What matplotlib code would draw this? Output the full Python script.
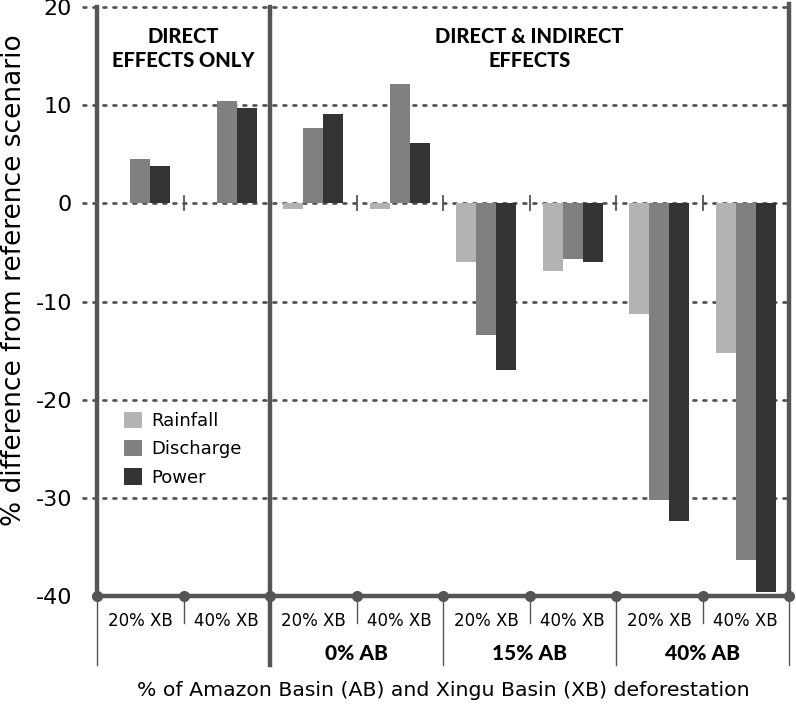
import matplotlib.pyplot as plt
import matplotlib.transforms as mtransforms
import numpy as np

plt.rcParams['font.family'] = ['DejaVu Sans']

# data
xb_labels = ['20% XB', '40% XB', '20% XB', '40% XB', '20% XB', '40% XB', '20% XB', '40% XB']
ab_labels = ['', '0% AB', '15% AB', '40% AB']
rainfall = [0, 0, -0.6, -0.6, -6.0, -6.9, -11.3, -15.2]
discharge = [4.5, 10.4, 7.7, 12.2, -13.4, -5.7, -30.2, -36.3]
power = [3.8, 9.7, 9.1, 6.1, -17.0, -6.0, -32.4, -39.6]
yticks = [20, 10, 0, -10, -20, -30, -40]

c_rain = '#b3b3b3'
c_dis = '#808080'
c_pow = '#333333'
c_axis = '#555555'
heavy = ['Lato', 'DejaVu Sans']

fig = plt.figure(figsize=(7.96, 7.05), dpi=100)
ax = fig.add_axes([97 / 796, 1 - 596 / 705, 692 / 796, 589 / 705])

n = len(xb_labels)
x = np.arange(n) + 0.5
w = 0.233

ax.bar(x - w, rainfall, w, color=c_rain, linewidth=0, label='Rainfall', zorder=3)
ax.bar(x, discharge, w, color=c_dis, linewidth=0, label='Discharge', zorder=3)
ax.bar(x + w, power, w, color=c_pow, linewidth=0, label='Power', zorder=3)

ax.set_xlim(0, n)
ax.set_ylim(-40, 20)

# dotted grid lines, running a bit left of the axis
for yv in yticks[:-1]:
    ax.plot([-0.16, n], [yv, yv], ls=(0, (1, 2.6)), lw=2, color=c_axis,
            clip_on=False, zorder=2, dash_capstyle='round')

# small ticks on zero line
for xv in [1, 3, 4, 5, 6, 7]:
    ax.plot([xv, xv], [-0.7, 0.7], color=c_axis, lw=1.3, zorder=2)

for s in ax.spines.values():
    s.set_visible(False)

# thick frame lines
ax.plot([0, 0], [-40, 20], color=c_axis, lw=3.2, clip_on=False, zorder=4)
ax.plot([2, 2], [-40, 20], color=c_axis, lw=3.2, clip_on=False, zorder=4)
ax.plot([n, n], [-40, 20.3], color=c_axis, lw=3.2, clip_on=False, zorder=4)
ax.plot(np.arange(n + 1), [-40] * (n + 1), color=c_axis, lw=3.2, marker='o',
        ms=7, clip_on=False, zorder=5)

# separators below the axis
trans = mtransforms.blended_transform_factory(ax.transData, ax.transAxes)
for xv in range(n + 1):
    if xv == 2:
        ax.plot([xv, xv], [0, -0.117], color=c_axis, lw=3.2, transform=trans, clip_on=False)
    elif xv % 2 == 0:
        ax.plot([xv, xv], [0, -0.117], color=c_axis, lw=1.0, transform=trans, clip_on=False)
    else:
        ax.plot([xv, xv], [0, -0.046], color=c_axis, lw=1.0, transform=trans, clip_on=False)

for i, lab in enumerate(xb_labels):
    ax.text(x[i], -0.043, lab, transform=trans, ha='center', va='center', fontsize=12)
for i, lab in enumerate(ab_labels):
    ax.text(2 * i + 1, -0.097, lab, transform=trans, ha='center', va='center',
            fontsize=15, fontweight='black', family=heavy)

ax.text(4, -0.16, '% of Amazon Basin (AB) and Xingu Basin (XB) deforestation',
        transform=trans, ha='center', va='center', fontsize=14.7)

# section headings
ax.text(1, 0.966, 'DIRECT\nEFFECTS ONLY', transform=trans, ha='center', va='top',
        fontsize=14.5, fontweight='black', linespacing=1.3, family=heavy)
ax.text(5, 0.966, 'DIRECT & INDIRECT\nEFFECTS', transform=trans, ha='center', va='top',
        fontsize=14.5, fontweight='black', linespacing=1.3, family=heavy)

ax.set_xticks([])
ax.set_yticks(yticks)
ax.set_yticklabels([str(v) for v in yticks], fontsize=16)
ax.tick_params(axis='y', length=0, pad=18)
ax.set_ylabel('% difference from reference scenario', fontsize=19, va='center')
ax.yaxis.set_label_coords(-0.12, 0.5365)

ax.legend(loc='upper left', bbox_to_anchor=(0.016, 0.34), frameon=False, fontsize=13,
          handlelength=1.0, handleheight=1.0, handletextpad=0.5, labelspacing=0.55)

plt.savefig('out.png', dpi=100)
